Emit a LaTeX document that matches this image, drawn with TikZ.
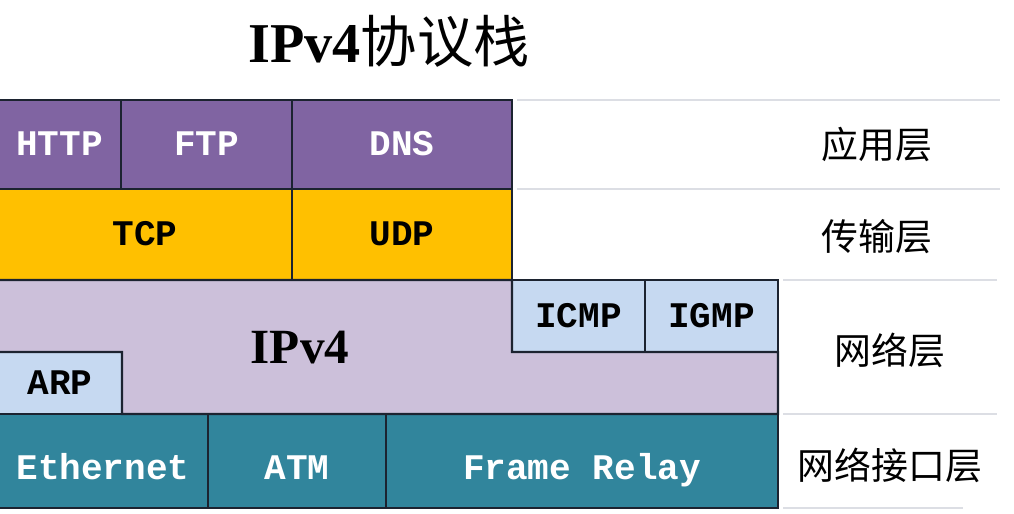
\documentclass[tikz,border=0pt]{standalone}
\usepackage{fontspec}
\setmainfont{Liberation Serif}
\setmonofont{Liberation Mono}
\newfontfamily\cjk{Noto Sans CJK SC}
\usetikzlibrary{positioning}

\definecolor{apppurple}{HTML}{8064A2}
\definecolor{tpyellow}{HTML}{FFC000}
\definecolor{iplilac}{HTML}{CCC0DA}
\definecolor{ctlblue}{HTML}{C6D9F1}
\definecolor{linkteal}{HTML}{31859C}
\definecolor{edgeline}{HTML}{1C2330}
\definecolor{rulegray}{HTML}{DCDEE4}

\begin{document}
\begin{tikzpicture}[
    cell/.style={rectangle, draw=edgeline, line width=1.2pt, outer sep=0pt, inner sep=0pt, anchor=north west,
        text height=15pt, text depth=2pt, font=\ttfamily\bfseries\fontsize{20.5}{24}\selectfont},
    appbox/.style={cell, fill=apppurple, text=white, minimum height=1.78cm},
    tpbox/.style={cell, fill=tpyellow, minimum height=1.82cm},
    ctlbox/.style={cell, fill=ctlblue},
    linkbox/.style={cell, fill=linkteal, text=white, minimum height=1.88cm, text height=21pt, text depth=0pt},
    layer/.style={font=\cjk\fontsize{21}{24}\selectfont},
    rule/.style={rulegray, line width=1.5pt}
]
    \useasboundingbox (0,0) rectangle (20.28,10.28);

    % Title
    \node (title) at (7.78,9.46) {\fontsize{32}{36}\selectfont\textbf{IPv4}{\cjk 协议栈}};

    % Application layer
    \node[appbox, minimum width=2.46cm] (http) at (-0.04,8.28) {HTTP};
    \node[appbox, minimum width=3.42cm, right=0pt of http] (ftp) {FTP};
    \node[appbox, minimum width=4.40cm, right=0pt of ftp] (dns) {DNS};

    % Transport layer
    \node[tpbox, minimum width=5.88cm, below=0pt of http.south west, anchor=north west] (tcp) {TCP};
    \node[tpbox, minimum width=4.40cm, right=0pt of tcp] (udp) {UDP};

    % Network layer
    \node[ctlbox, minimum width=2.66cm, minimum height=1.44cm, below=0pt of udp.south east, anchor=north west] (icmp) {ICMP};
    \node[ctlbox, minimum width=2.66cm, minimum height=1.44cm, right=0pt of icmp] (igmp) {IGMP};

    % Link layer
    \node[linkbox, minimum width=4.20cm] (ethernet) at (-0.04,2.00) {Ethernet};
    \node[linkbox, minimum width=3.56cm, right=0pt of ethernet] (atm) {ATM};
    \node[linkbox, minimum width=7.84cm, right=0pt of atm] (frame) {Frame Relay};
    \node[ctlbox, minimum width=2.48cm, minimum height=1.24cm, above=0pt of ethernet.north west, anchor=south west] (arp) {ARP};

    % IPv4 block
    \draw[draw=edgeline, line width=1.2pt, fill=iplilac] (tcp.south west) -- (udp.south east) -- (icmp.south west)
        -- (igmp.south east) -- (frame.north east) -- (arp.south east) -- (arp.north east) -- (arp.north west) -- cycle;
    \node[font=\bfseries\fontsize{28}{32}\selectfont] (ipv4) at (6.0,3.32) {IPv4};

    % Table rules
    \draw[rule] ([xshift=3pt]dns.north east) -- ++(9.66,0);
    \draw[rule] ([xshift=3pt]udp.north east) -- ++(9.66,0);
    \draw[rule] ([xshift=3pt]igmp.north east) -- ++(4.28,0);
    \draw[rule] ([xshift=3pt]frame.north east) -- ++(4.28,0);
    \draw[rule] ([xshift=3pt]frame.south east) -- ++(3.60,0);

    % Layer names
    \node[layer] (app) at (17.54,7.38) {应用层};
    \node[layer] (trans) at (17.54,5.54) {传输层};
    \node[layer] (net) at (17.80,3.28) {网络层};
    \node[layer] (netif) at (17.80,0.98) {网络接口层};
\end{tikzpicture}
\end{document}
